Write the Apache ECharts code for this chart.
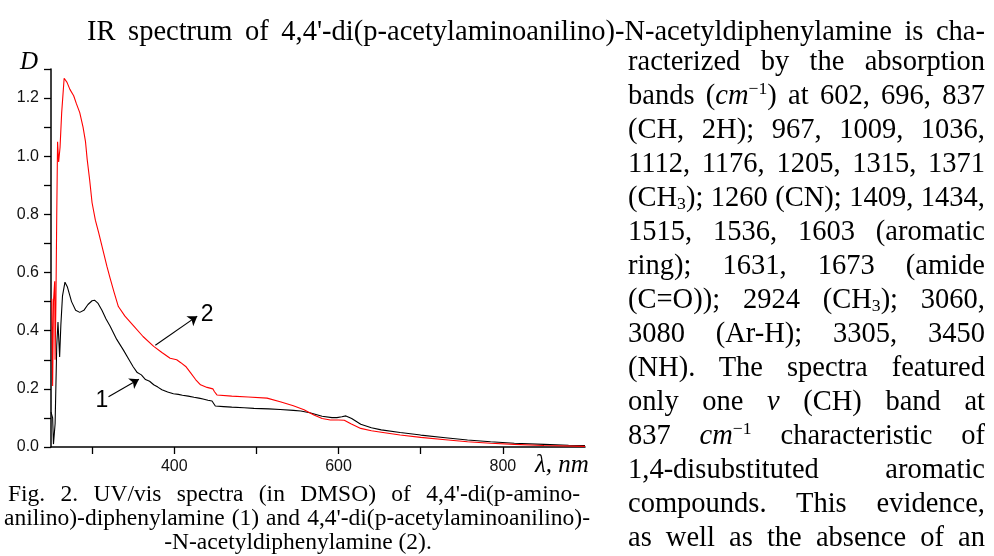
<!DOCTYPE html>
<html>
<head>
<meta charset="utf-8">
<script src="https://cdn.jsdelivr.net/npm/echarts@6/dist/echarts.min.js"></script>
<style>
  html, body { margin: 0; padding: 0; background: #fff; }
  #page { position: relative; width: 994px; height: 556px; overflow: hidden; background: #fff; }
  #chart { position: absolute; left: 0; top: 0; width: 994px; height: 556px; }
  .ln { position: absolute; font-family: "Liberation Serif", "Times New Roman", serif; color: #000;
        white-space: nowrap; text-align: justify; text-align-last: justify; }
  .body { font-size: 28.5px; line-height: 30px; height: 30px; }
  .cap { font-size: 23.5px; line-height: 24px; height: 24px; }
  sup, sub { font-size: 62%; line-height: 0; }
  sup { vertical-align: 0.55em; }
  sub { vertical-align: -0.15em; }
</style>
</head>
<body>
<div id="page">
  <div id="chart"></div>
  <div class="ln body" style="left:87px; top:16px; width:898px;">IR spectrum of 4,4'-di(p-acetylaminoanilino)-N-acetyldiphenylamine is cha-</div>
  <div class="ln body" style="left:628px; top:46px; width:357px;">racterized by the absorption</div>
  <div class="ln body" style="left:628px; top:80px; width:357px;">bands (<i>cm</i><sup>−1</sup>) at 602, 696, 837</div>
  <div class="ln body" style="left:628px; top:114px; width:357px;">(CH, 2H); 967, 1009, 1036,</div>
  <div class="ln body" style="left:628px; top:148px; width:357px;">1112, 1176, 1205, 1315, 1371</div>
  <div class="ln body" style="left:628px; top:182px; width:357px;">(CH<sub>3</sub>); 1260 (CN); 1409, 1434,</div>
  <div class="ln body" style="left:628px; top:216px; width:357px;">1515, 1536, 1603 (aromatic</div>
  <div class="ln body" style="left:628px; top:250px; width:357px;">ring); 1631, 1673 (amide</div>
  <div class="ln body" style="left:628px; top:284px; width:357px;">(C=O)); 2924 (CH<sub>3</sub>); 3060,</div>
  <div class="ln body" style="left:628px; top:318px; width:357px;">3080 (Ar-H); 3305, 3450</div>
  <div class="ln body" style="left:628px; top:352px; width:357px;">(NH). The spectra featured</div>
  <div class="ln body" style="left:628px; top:386px; width:357px;">only one <i>ν</i> (CH) band at</div>
  <div class="ln body" style="left:628px; top:420px; width:357px;">837 <i>cm</i><sup>−1</sup> characteristic of</div>
  <div class="ln body" style="left:628px; top:454px; width:357px;">1,4-disubstituted aromatic</div>
  <div class="ln body" style="left:628px; top:488px; width:357px;">compounds. This evidence,</div>
  <div class="ln body" style="left:628px; top:522px; width:357px;">as well as the absence of an</div>
  <div class="ln cap" style="left:8px; top:481px; width:572px;">Fig. 2. UV/vis spectra (in DMSO) of 4,4'-di(p-amino-</div>
  <div class="ln cap" style="left:4px; top:505px; width:586px;">anilino)-diphenylamine (1) and 4,4'-di(p-acetylaminoanilino)-</div>
  <div class="ln cap" style="left:0px; top:529px; width:596px; text-align:center; text-align-last:center;">-N-acetyldiphenylamine (2).</div>
</div>
<script>
// Curve 1 (black): 4,4'-di(p-aminoanilino)-diphenylamine
var wl1 = [250, 252, 253, 255, 257, 258.5, 260.5, 262, 264, 267, 270, 275, 280, 285, 290, 295, 300, 303, 307, 312, 317, 322, 330, 338, 345, 350, 355, 360, 365, 370, 375, 380, 385, 392, 399, 405, 410, 417, 424, 430, 435, 441, 446, 448, 450, 460, 470, 485, 497, 515, 529, 545, 554, 565, 580, 592, 598, 604, 609, 616, 627, 640, 652, 675, 700, 730, 757, 785, 814, 850, 880, 900];
var d1  = [0.12, 0.10, 0.01, 0.08, 0.35, 0.43, 0.31, 0.42, 0.52, 0.567, 0.55, 0.50, 0.47, 0.463, 0.47, 0.49, 0.503, 0.505, 0.495, 0.47, 0.44, 0.415, 0.37, 0.334, 0.30, 0.276, 0.256, 0.248, 0.232, 0.226, 0.214, 0.206, 0.197, 0.189, 0.183, 0.181, 0.178, 0.175, 0.171, 0.168, 0.165, 0.161, 0.158, 0.156, 0.141, 0.139, 0.137, 0.135, 0.133, 0.131, 0.129, 0.126, 0.124, 0.118, 0.106, 0.101, 0.101, 0.104, 0.107, 0.098, 0.078, 0.066, 0.059, 0.050, 0.041, 0.032, 0.024, 0.018, 0.013, 0.009, 0.006, 0.005];
// Curve 2 (red): 4,4'-di(p-acetylaminoanilino)-N-acetyldiphenylamine
var wl2 = [251, 252, 253, 254.5, 255, 256, 257, 258, 259.3, 261, 263, 266, 269.5, 273, 277.6, 281, 285, 289, 292, 294, 297, 300, 304, 308, 313, 318, 322, 327, 332, 340, 350, 362, 375, 385, 395, 403, 408, 414, 420, 426, 432, 440, 447, 449, 452, 470, 490, 513, 530, 545, 558, 570, 580, 590, 600, 607, 615, 627, 640, 652, 675, 700, 730, 757, 785, 814, 850, 900];
var d2  = [0.51, 0.21, 0.50, 0.57, 0.30, 0.50, 0.80, 1.05, 0.98, 1.03, 1.15, 1.268, 1.254, 1.23, 1.208, 1.18, 1.15, 1.10, 1.05, 0.99, 0.92, 0.84, 0.78, 0.737, 0.68, 0.622, 0.58, 0.53, 0.483, 0.45, 0.418, 0.38, 0.346, 0.325, 0.305, 0.30, 0.29, 0.277, 0.255, 0.232, 0.214, 0.205, 0.200, 0.190, 0.179, 0.175, 0.172, 0.168, 0.155, 0.142, 0.128, 0.110, 0.098, 0.093, 0.093, 0.092, 0.080, 0.064, 0.056, 0.051, 0.041, 0.033, 0.025, 0.018, 0.013, 0.009, 0.005, 0.002];
// Axis ticks and labels
var xTicks = [300, 400, 500, 600, 700, 800];
var xLabels = [400, 600, 800];
var yTicks = [0, 0.1, 0.2, 0.3, 0.4, 0.5, 0.6, 0.7, 0.8, 0.9, 1.0, 1.1, 1.2, 1.3];
var yLabels = [0, 0.2, 0.4, 0.6, 0.8, 1.0, 1.2];
// Annotations (data coordinates)
var arrow1 = [[320, 0.173], [357, 0.233]];
var arrow2 = [[377, 0.350], [428, 0.450]];
var label1 = [312, 0.160];
var label2 = [440, 0.455];

function pairs(xs, ys) { return xs.map(function (x, i) { return [x, ys[i]]; }); }

var chart = echarts.init(document.getElementById('chart'), null, { renderer: 'canvas' });
var axisFont = { fontFamily: 'Liberation Sans, Arial, sans-serif', fontSize: 16, color: '#111' };
chart.setOption({
  animation: false,
  grid: { left: 51, top: 69, width: 534, height: 378 },
  xAxis: {
    type: 'value', min: 250, max: 900,
    axisLine: { lineStyle: { color: '#000', width: 1.5 } },
    axisTick: { show: true, inside: false, length: 7, lineStyle: { color: '#000', width: 1.3 }, customValues: xTicks },
    axisLabel: Object.assign({ margin: 12, customValues: xLabels }, axisFont),
    splitLine: { show: false }
  },
  yAxis: {
    type: 'value', min: 0, max: 1.3,
    axisLine: { show: true, lineStyle: { color: '#000', width: 1.5 } },
    axisTick: { show: true, inside: false, length: 7, lineStyle: { color: '#000', width: 1.3 }, customValues: yTicks },
    axisLabel: Object.assign({ margin: 12, customValues: yLabels, formatter: function (v) { return v.toFixed(1); } }, axisFont),
    splitLine: { show: false }
  },
  graphic: [
    { type: 'text', left: 20, top: 50, style: { text: 'D', font: 'italic 25px "Liberation Serif", serif', fill: '#000' } },
    { type: 'text', left: 535, top: 453, style: { text: 'λ, nm', font: 'italic 25px "Liberation Serif", serif', fill: '#000' } }
  ],
  series: [
    {
      type: 'line', name: '1', data: pairs(wl1, d1), showSymbol: false, smooth: false,
      lineStyle: { color: '#000', width: 1.1 }, silent: true,
      markLine: {
        silent: true, symbol: ['none', 'arrow'], symbolSize: 9,
        lineStyle: { color: '#000', width: 1.1, type: 'solid' }, label: { show: false },
        data: [
          [{ coord: arrow1[0] }, { coord: arrow1[1] }],
          [{ coord: arrow2[0] }, { coord: arrow2[1] }]
        ]
      },
      markPoint: {
        silent: true, symbol: 'circle', symbolSize: 0,
        label: { show: true, position: 'inside', fontFamily: 'Liberation Sans, Arial, sans-serif', fontSize: 23, color: '#000', formatter: function (p) { return p.name; } },
        data: [
          { name: '1', coord: label1 },
          { name: '2', coord: label2 }
        ]
      }
    },
    {
      type: 'line', name: '2', data: pairs(wl2, d2), showSymbol: false, smooth: false,
      lineStyle: { color: '#ff0000', width: 1.1 }, silent: true
    }
  ]
});
</script>
</body>
</html>
